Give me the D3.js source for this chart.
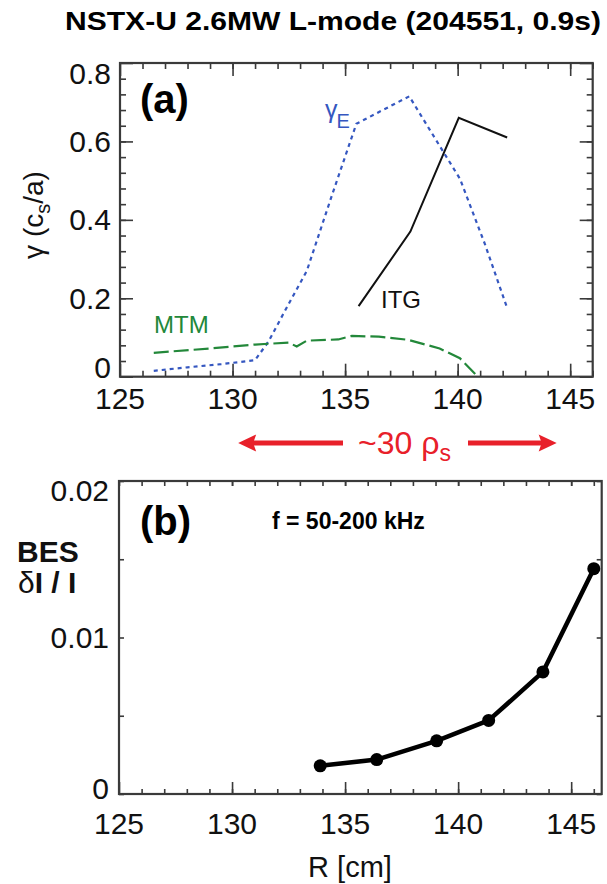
<!DOCTYPE html>
<html><head><meta charset="utf-8">
<script src="https://cdn.jsdelivr.net/npm/d3@7"></script>
<style>body{margin:0;background:#fff}svg{display:block;font-family:"Liberation Sans",Arial,sans-serif}</style>
</head><body><svg id="c" width="607" height="884"></svg>
<script>
// ---- data ----
const R_gammaE = [126.5, 128.0, 129.5, 131.0, 131.6, 132.3, 133.3, 134.4, 135.5, 137.85, 139.4, 140.1, 141.2, 142.2];
const gammaE   = [0.015, 0.024, 0.032, 0.042, 0.09, 0.165, 0.27, 0.46, 0.645, 0.715, 0.57, 0.505, 0.34, 0.175];
const R_ITG    = [135.6, 137.9, 140.05, 142.2];
const gammaITG = [0.18, 0.37, 0.66, 0.61];
const R_MTM    = [126.5, 129.0, 131.0, 132.5, 132.85, 133.3, 134.7, 135.3, 136.5, 137.8, 139.2, 140.1, 140.9];
const gammaMTM = [0.061, 0.072, 0.082, 0.087, 0.077, 0.092, 0.095, 0.104, 0.102, 0.094, 0.072, 0.047, 0.0];
const R_BES    = [133.9, 136.4, 139.05, 141.35, 143.75, 146.0];
const besAmp   = [0.0018, 0.0022, 0.0034, 0.0047, 0.0078, 0.0144];
const xTicksR  = [125, 130, 135, 140, 145];
const yTicksA  = [0, 0.2, 0.4, 0.6, 0.8];
const yTicksB  = [0, 0.01, 0.02];

const svg = d3.select("#c");
const FS = 30;

// ---- title ----
svg.append("text").attr("x", 333).attr("y", 30).attr("text-anchor", "middle")
  .attr("font-weight", "bold").attr("font-size", 26)
  .attr("textLength", 536).attr("lengthAdjust", "spacingAndGlyphs")
  .text("NSTX-U 2.6MW L-mode (204551, 0.9s)");

// ---- panel a ----
const xa = d3.scaleLinear().domain([125, 146]).range([120, 592.7]);
const ya = d3.scaleLinear().domain([0, 0.8]).range([376.7, 63]);

function frameAxes(g, x, y, xt, yt, xminor, yminor, opt) {
  const [x0, x1] = x.range(), [y0, y1] = y.range();
  const col = "#3a3a3a";
  g.append("g").attr("transform", `translate(0,${y0})`)
    .call(d3.axisTop(x).tickValues(xminor).tickSize(opt.xmin).tickFormat(""));
  g.append("g").attr("transform", `translate(0,${y0})`)
    .call(d3.axisTop(x).tickValues(xt).tickSize(opt.xmaj).tickFormat(""));
  g.append("g").attr("transform", `translate(0,${y1})`)
    .call(d3.axisBottom(x).tickValues(xminor).tickSize(opt.xmin).tickFormat(""));
  g.append("g").attr("transform", `translate(0,${y1})`)
    .call(d3.axisBottom(x).tickValues(xt).tickSize(opt.xmajTop).tickFormat(""));
  g.append("g").attr("transform", `translate(${x0},0)`)
    .call(d3.axisRight(y).tickValues(yminor).tickSize(opt.ymin).tickFormat(""));
  g.append("g").attr("transform", `translate(${x0},0)`)
    .call(d3.axisRight(y).tickValues(yt).tickSize(opt.ymaj).tickFormat(""));
  g.append("g").attr("transform", `translate(${x1},0)`)
    .call(d3.axisLeft(y).tickValues(yminor).tickSize(opt.ymin).tickFormat(""));
  g.append("g").attr("transform", `translate(${x1},0)`)
    .call(d3.axisLeft(y).tickValues(yt).tickSize(opt.ymaj).tickFormat(""));
  g.selectAll(".domain").remove();
  g.selectAll(".tick line").attr("stroke", col).attr("stroke-width", 1.6);
  g.append("rect").attr("x", x0).attr("y", y1).attr("width", x1 - x0).attr("height", y0 - y1)
    .attr("fill", "none").attr("stroke", col).attr("stroke-width", 2.2);
}

const ga = svg.append("g");
const xMinorA = d3.range(126, 146.01, 1);
const yMinorA = d3.range(0.04, 0.8, 0.04);
frameAxes(ga, xa, ya, xTicksR, yTicksA, xMinorA, yMinorA,
  {xmin: 6, xmaj: 13, xmajTop: 13, ymin: 6, ymaj: 13});

ga.append("g").selectAll("text").data(xTicksR).join("text")
  .attr("x", d => xa(d)).attr("y", 398).attr("dy", "0.35em")
  .attr("text-anchor", "middle").attr("font-size", FS).attr("fill", "#111").text(d => d);
ga.append("g").selectAll("text").data(yTicksA).join("text")
  .attr("x", 111).attr("y", d => ya(d) + (d === 0.8 ? 10 : d === 0 ? -9 : 0)).attr("dy", "0.35em")
  .attr("text-anchor", "end").attr("font-size", FS).attr("fill", "#111")
  .text(d => d === 0 ? "0" : d3.format(".1f")(d));

const yl = svg.append("text").attr("transform", "translate(43,215) rotate(-90)")
  .attr("text-anchor", "middle").attr("font-size", 28).attr("fill", "#111");
yl.append("tspan").text("γ (c");
yl.append("tspan").attr("font-size", 20).attr("dy", 7).text("s");
yl.append("tspan").attr("dy", -7).text("/a)");

const line = (xs, ys, X, Y) => d3.line().x((d, i) => X(xs[i])).y(d => Y(d))(ys);

ga.append("path").attr("d", line(R_gammaE, gammaE, xa, ya)).attr("fill", "none")
  .attr("stroke", "#3557c0").attr("stroke-width", 2.2).attr("stroke-dasharray", "4,4");
ga.append("path").attr("d", line(R_MTM, gammaMTM, xa, ya)).attr("fill", "none")
  .attr("stroke", "#23883a").attr("stroke-width", 2.2).attr("stroke-dasharray", "15,5");
ga.append("path").attr("d", line(R_ITG, gammaITG, xa, ya)).attr("fill", "none")
  .attr("stroke", "#111").attr("stroke-width", 2);

ga.append("text").attr("x", 140).attr("y", 113).attr("font-size", 40).attr("font-weight", "bold").text("(a)");
const ge = ga.append("text").attr("x", 325).attr("y", 118).attr("fill", "#3557c0").attr("font-size", 25);
ge.append("tspan").text("γ");
ge.append("tspan").attr("font-size", 20).attr("dy", 10).attr("dx", -1).text("E");
ga.append("text").attr("x", 381).attr("y", 308).attr("font-size", 24).attr("fill", "#111").text("ITG");
ga.append("text").attr("x", 154).attr("y", 333).attr("font-size", 24).attr("fill", "#23883a").text("MTM");

// ---- red arrow annotation ----
const red = "#e8202a";
const arrL = 130.25, arrR = 144.4, arrY = 443;
const ag = svg.append("g");
ag.append("line").attr("x1", xa(arrL) + 12).attr("x2", 343).attr("y1", arrY).attr("y2", arrY)
  .attr("stroke", red).attr("stroke-width", 5);
ag.append("line").attr("x1", 468).attr("x2", xa(arrR) - 12).attr("y1", arrY).attr("y2", arrY)
  .attr("stroke", red).attr("stroke-width", 5);
ag.append("path").attr("fill", red)
  .attr("d", `M${xa(arrL)},${arrY} L${xa(arrL) + 18},${arrY - 8.5} L${xa(arrL) + 15},${arrY} L${xa(arrL) + 18},${arrY + 8.5} Z`);
ag.append("path").attr("fill", red)
  .attr("d", `M${xa(arrR)},${arrY} L${xa(arrR) - 18},${arrY - 8.5} L${xa(arrR) - 15},${arrY} L${xa(arrR) - 18},${arrY + 8.5} Z`);
const at = ag.append("text").attr("x", 358).attr("y", 454).attr("font-size", 32).attr("fill", red);
at.append("tspan").text("~30 ρ");
at.append("tspan").attr("font-size", 23).attr("dy", 7).text("s");

// ---- panel b ----
const xb = d3.scaleLinear().domain([125, 146.35]).range([119, 601.7]);
const yb = d3.scaleLinear().domain([0, 0.02]).range([794, 481]);
const gb = svg.append("g");
frameAxes(gb, xb, yb, xTicksR, yTicksB, d3.range(126, 146.01, 1), [0.005, 0.015],
  {xmin: 5, xmaj: 12, xmajTop: 5, ymin: 5, ymaj: 5});

gb.append("g").selectAll("text").data(xTicksR).join("text")
  .attr("x", d => xb(d)).attr("y", 823).attr("dy", "0.35em")
  .attr("text-anchor", "middle").attr("font-size", FS).attr("fill", "#111").text(d => d);
gb.append("g").selectAll("text").data(yTicksB).join("text")
  .attr("x", 109).attr("y", d => yb(d) + (d === 0.02 ? 9 : d === 0 ? -6 : 0)).attr("dy", "0.35em")
  .attr("text-anchor", "end").attr("font-size", FS).attr("fill", "#111")
  .text(d => d === 0 ? "0" : d3.format(".2f")(d));
svg.append("text").attr("x", 350).attr("y", 867).attr("dy", "0.35em").attr("text-anchor", "middle")
  .attr("font-size", 29).attr("fill", "#111").text("R [cm]");

gb.append("path").attr("d", line(R_BES, besAmp, xb, yb)).attr("fill", "none")
  .attr("stroke", "#000").attr("stroke-width", 4.5).attr("stroke-linejoin", "round");
gb.append("g").selectAll("circle").data(besAmp).join("circle")
  .attr("cx", (d, i) => xb(R_BES[i])).attr("cy", d => yb(d)).attr("r", 6.5).attr("fill", "#000");

gb.append("text").attr("x", 140).attr("y", 535).attr("font-size", 40).attr("font-weight", "bold").text("(b)");
gb.append("text").attr("x", 272).attr("y", 529).attr("font-size", 23).attr("font-weight", "bold").text("f = 50-200 kHz");
svg.append("text").attr("x", 17).attr("y", 562).attr("font-size", 30).attr("font-weight", "bold").attr("fill", "#111").text("BES");
const dl = svg.append("text").attr("x", 18).attr("y", 593).attr("font-size", 30).attr("fill", "#111");
dl.append("tspan").text("δ");
dl.append("tspan").attr("font-weight", "bold").text("I / I");
</script></body></html>
